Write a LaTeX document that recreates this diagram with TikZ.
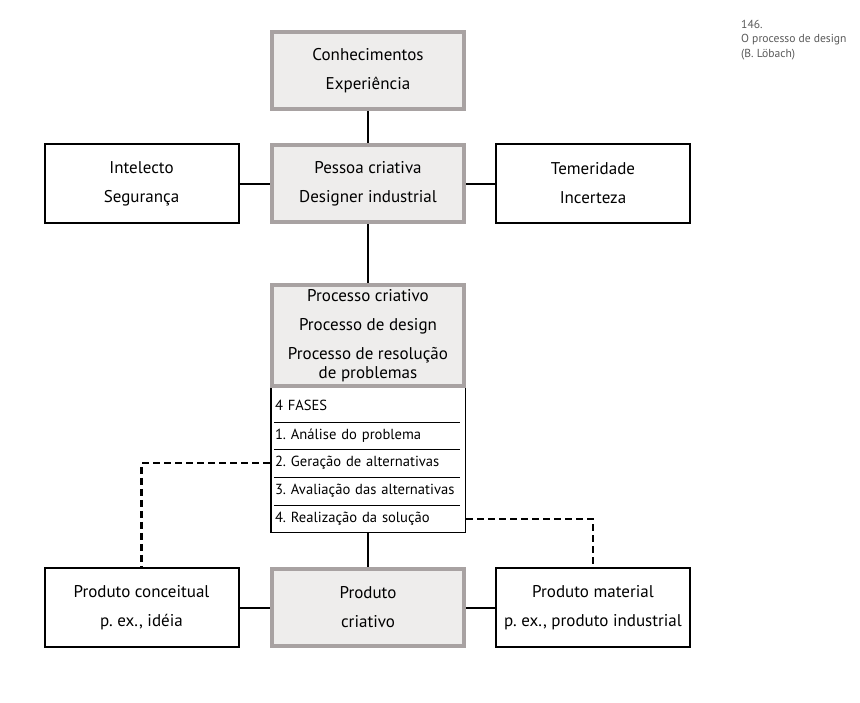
\documentclass[tikz,border=0pt]{standalone}
\usepackage{fontspec}
\setmainfont{PT Sans}
\definecolor{framegrey}{RGB}{168,162,162}
\definecolor{boxfill}{RGB}{238,237,236}
\definecolor{capgrey}{RGB}{90,90,90}
\frenchspacing
\begin{document}
\begin{tikzpicture}[x=1pt,y=-1pt,
  txt/.style={font=\fontsize{17}{29}\selectfont, align=center, inner sep=0pt},
  greybox/.style={txt, draw=framegrey, line width=4.5pt, fill=boxfill, minimum width=192pt, minimum height=77pt},
  whitebox/.style={txt, draw=black, line width=2pt, fill=white, minimum width=194pt, minimum height=79pt},
  conn/.style={line width=2pt},
  dashconn/.style={line width=2.2pt, dash pattern=on 7pt off 4pt},
  phaserow/.style={minimum width=196pt, text width=186pt, align=left, inner sep=0pt, anchor=north, font=\fontsize{14.6}{16}\selectfont},
  sepline/.style={line width=1.2pt}
]
\useasboundingbox (0,0) rectangle (860,702);
\fill[white] (0,0) rectangle (860,702);

% caption
\node[anchor=north west, inner sep=0pt, align=left, text=capgrey, font=\fontsize{11.6}{14.5}\selectfont] (cap) at (741,20) {146.\\O processo de design\\(B. Löbach)};

% top
\node[greybox] (conh) at (368,70.5) {Conhecimentos\\Experiência};
\node[greybox] (pessoa) at (368,183.5) {Pessoa criativa\\Designer industrial};
\node[whitebox] (intel) at (141.5,183.5) {Intelecto\\Segurança};
\node[whitebox] (temer) at (593,183.5) {Temeridade\\Incerteza};

% phases box
\node[draw=black, line width=1.5pt, fill=white, minimum width=194.5pt, minimum height=146pt, inner sep=0pt] (phases) at (368,459.5) {};
\node[phaserow, minimum height=34pt] (r0) at (368,388) {4 FASES};
\node[phaserow, minimum height=27pt] (r1) at (368,422) {1. Análise do problema};
\node[phaserow, minimum height=28pt] (r2) at (368,449) {2. Geração de alternativas};
\node[phaserow, minimum height=28pt] (r3) at (368,477) {3. Avaliação das alternativas};
\node[phaserow, minimum height=28pt] (r4) at (368,505) {4. Realização da solução};
\draw[sepline] ([xshift=4pt]r0.south west) -- ([xshift=-6pt]r0.south east);
\draw[sepline] ([xshift=4pt]r1.south west) -- ([xshift=-6pt]r1.south east);
\draw[sepline] ([xshift=4pt]r2.south west) -- ([xshift=-6pt]r2.south east);
\draw[sepline] ([xshift=4pt]r3.south west) -- ([xshift=-6pt]r3.south east);

% process box
\node[greybox, minimum height=101pt] (proc) at (368,335.5) {Processo criativo\\Processo de design\\Processo de resolução\\[-10pt]de problemas};

% bottom
\node[greybox] (prod) at (368,607.5) {Produto\\criativo};
\node[whitebox] (conc) at (141.5,607.5) {Produto conceitual\\p. ex., idéia};
\node[whitebox] (mat) at (593,607.5) {Produto material\\p. ex., produto industrial};

% connectors
\draw[conn] (conh) -- (pessoa);
\draw[conn] (pessoa) -- (intel);
\draw[conn] (pessoa) -- (temer);
\draw[conn] (pessoa) -- (proc);
\draw[conn] (phases) -- (prod);
\draw[conn] (prod) -- (conc);
\draw[conn] (prod) -- (mat);
\draw[dashconn] (r2.west) -| (conc.north);
\draw[dashconn] (r4.east) -| (mat.north);
\end{tikzpicture}
\end{document}
